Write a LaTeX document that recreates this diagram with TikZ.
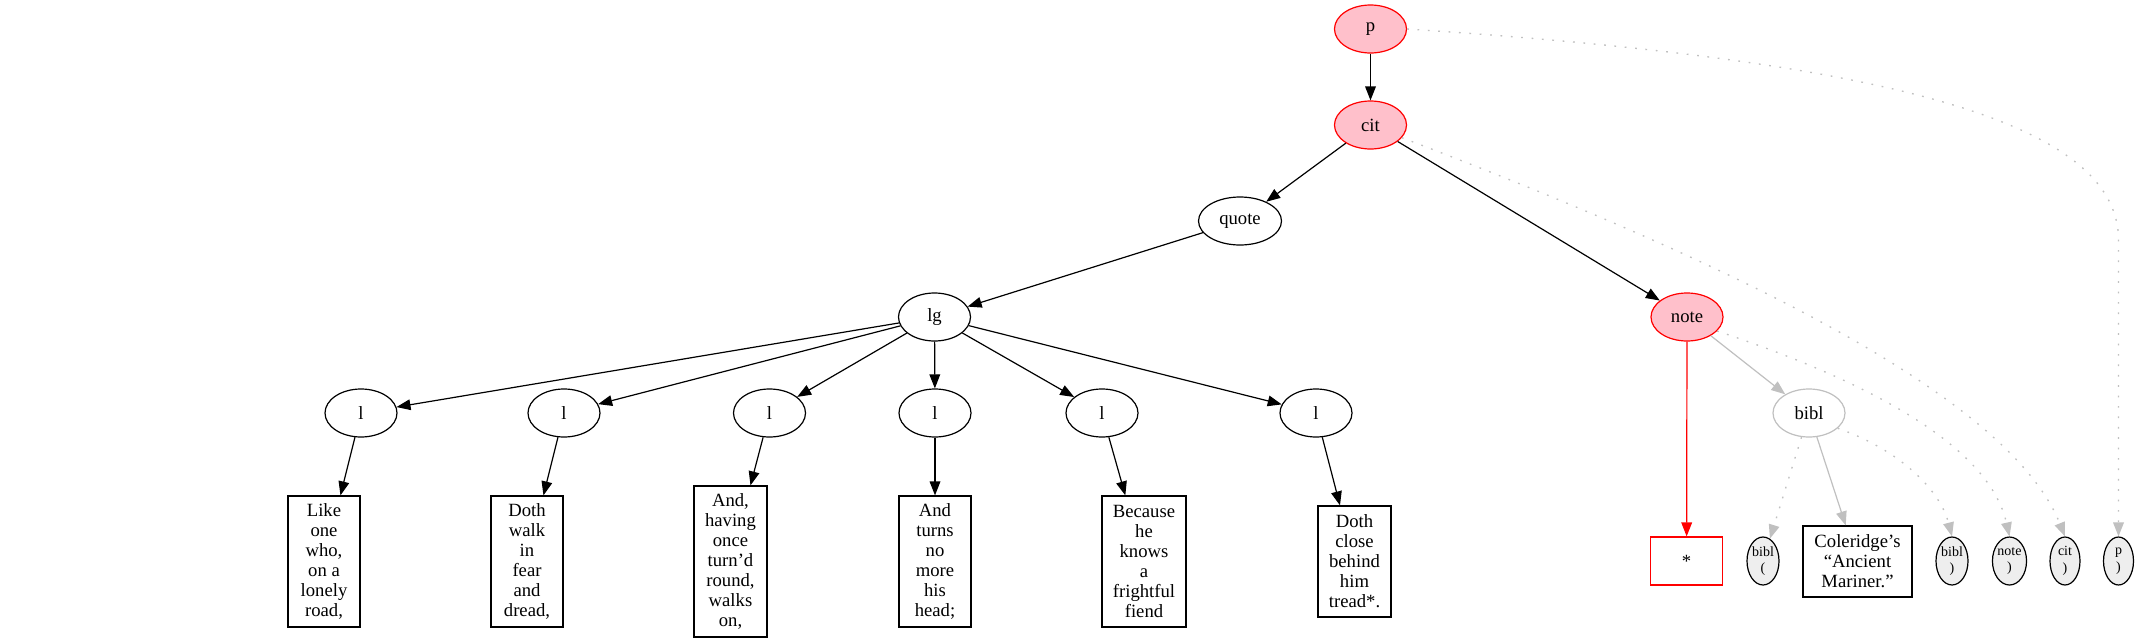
\documentclass[tikz,border=0pt]{standalone}
\usepackage{fontspec}
\setmainfont{Liberation Serif}
\usetikzlibrary{shapes.geometric,arrows.meta}
\definecolor{gvpink}{HTML}{FFC0CB}
\definecolor{gvgray}{HTML}{C0C0C0}
\definecolor{gvlight}{HTML}{EEEEEE}
\begin{document}
\begin{tikzpicture}[x=0.75pt,y=-0.75pt,
  base/.style={font=\fontsize{14}{15}\selectfont, inner sep=0pt, line width=0.9pt},
  ell/.style={base, ellipse, draw, minimum width=54pt, minimum height=36pt},
  hot/.style={ell, draw=red, fill=gvpink},
  txtbox/.style={base, rectangle, draw, align=center, minimum width=54pt},
  tok/.style={ellipse, draw, fill=gvlight, line width=0.9pt, inner sep=0pt,
    minimum width=24pt, minimum height=36pt, align=center,
    font=\fontsize{10.5}{12.5}\selectfont},
  edge/.style={line width=0.9pt, -{Triangle[length=10.5pt,width=8pt]}},
  gedge/.style={edge, color=gvgray},
  dotedge/.style={gedge, line width=1pt, dash pattern=on 1.3pt off 6.5pt}]
\fill[white] (0,0) rectangle (2139,643);
\useasboundingbox (0,0) rectangle (2139,643);

% upper tree
\node[hot] (p) at (1370.5,29) {p};
\node[hot] (cit) at (1370.5,125) {cit};
\node[ell, minimum width=62.25pt] (quote) at (1240,221) {quote};
\node[ell] (lg) at (934.5,317) {lg};
\node[hot] (note) at (1687,317) {note};
\node[ell, draw=gvgray] (bibl) at (1809,413) {bibl};

% l nodes
\node[ell] (l1) at (361,413) {l};
\node[ell] (l2) at (564,413) {l};
\node[ell] (l3) at (769.5,413) {l};
\node[ell] (l4) at (935,413) {l};
\node[ell] (l5) at (1102,413) {l};
\node[ell] (l6) at (1316,413) {l};

% text boxes
\node[txtbox, minimum height=98.25pt] (t1) at (324,561.5) {Like\\one\\who,\\on a\\lonely\\road,};
\node[txtbox, minimum height=98.25pt] (t2) at (527,561.5) {Doth\\walk\\in\\fear\\and\\dread,};
\node[txtbox, minimum width=54.75pt, minimum height=113.25pt] (t3) at (730.5,561.5) {And,\\having\\once\\turn’d\\round,\\walks\\on,};
\node[txtbox, minimum height=98.25pt] (t4) at (935,561.5) {And\\turns\\no\\more\\his\\head;};
\node[txtbox, minimum width=63pt, minimum height=98.25pt] (t5) at (1144,561.5) {Because\\he\\knows\\a\\frightful\\fiend};
\node[txtbox, minimum width=54.75pt, minimum height=83.25pt] (t6) at (1354.5,561.5) {Doth\\close\\behind\\him\\tread*.};
\node[txtbox, draw=red, minimum height=36pt] (star) at (1686.6,561) {*};
\node[txtbox, minimum width=81.75pt, minimum height=53.25pt] (cole) at (1857.5,561.5) {Coleridge’s\\“Ancient\\Mariner.”};

% token nodes
\node[tok] (bbo) at (1763,561) {bibl\\(};
\node[tok] (bbc) at (1952,561) {bibl\\)};
\node[tok, minimum width=25.5pt] (ntc) at (2009.5,561) {note\\)};
\node[tok, minimum width=22.5pt] (ctc) at (2065,561) {cit\\)};
\node[tok, minimum width=22.5pt] (ptc) at (2118.5,561) {p\\)};

% black edges
\draw[edge] (p) -- (cit);
\draw[edge] (cit) -- (quote);
\draw[edge] (cit) -- (note);
\draw[edge] (quote) -- (lg);
\foreach \k in {1,...,6} {
  \draw[edge] (lg) -- (l\k);
  \draw[edge] (l\k) -- (t\k);
}
% note edges
\draw[edge, color=red] (note) -- (star);
\draw[gedge] (note) -- (bibl);
\draw[gedge] (bibl) -- (cole);
\draw[dotedge] (bibl) -- (bbo);

% dotted closing edges
\draw[dotedge] (p.east) .. controls (1880,60) and (2118.5,120) .. (2118.5,240) -- (ptc.north);
\draw[dotedge] (cit.-22) .. controls (1750,270) and (2010,400) .. (ctc.north);
\draw[dotedge] (note.-25) .. controls (1880,385) and (1990,450) .. (ntc.north);
\draw[dotedge] (bibl.-28) .. controls (1900,450) and (1940,490) .. (bbc.north);
\end{tikzpicture}
\end{document}
